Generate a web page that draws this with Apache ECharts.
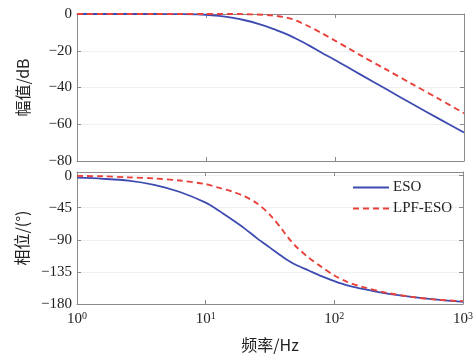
<!DOCTYPE html>
<html><head><meta charset="utf-8">
<script src="https://cdn.jsdelivr.net/npm/echarts@6/dist/echarts.min.js"></script>
<style>html,body{margin:0;padding:0;background:#fff}#c{width:476px;height:361px}</style>
</head><body><div id="c"></div>
<script>
const freq = [1, 1.58, 2.51, 3.98, 6.31, 10, 12.6, 15.8, 20, 25.1, 31.6, 39.8, 44.7, 50.1, 63.1, 79.4, 100, 126, 158, 251, 398, 631, 1000];
const magESO = [0, 0, 0, 0, -0.1, -0.4, -1, -2, -3.4, -5.2, -7.5, -10.3, -11.8, -13.5, -17.2, -21.2, -25, -29, -33, -41, -49, -56.8, -64.5];
const magLPF = [0, 0, 0, 0, 0, 0, 0, 0, -0.1, -0.3, -0.7, -1.6, -2.4, -3.6, -6.8, -10.5, -14.5, -18.5, -22.5, -30.3, -38.2, -46, -54];
const phaseESO = [-3, -4.5, -7, -13, -23, -38, -49, -61, -74, -88, -101, -114, -120, -125, -133, -141, -148, -154, -158, -165, -170, -174, -177];
const phaseLPF = [-0.5, -1, -2.5, -4, -7, -12, -17, -22, -29, -39, -55, -77, -89, -99, -115, -128, -140, -149, -155, -164, -170, -174, -176];
const magTicks = [0, -20, -40, -60, -80];
const phaseTicks = [0, -45, -90, -135, -180];
const seriesNames = ['ESO', 'LPF-ESO'];

const pair = (xs, ys) => xs.map((x, i) => [x, ys[i]]);
const SERIF = '"Liberation Serif","Times New Roman",serif';
const CJK = '"Noto Sans CJK SC",sans-serif';
const frame = '#8a8a8a';
const blue = '#3d4bb0', red = '#e8413a';
const minus = v => String(v).replace('-', '\u2212');

function xAx(gi, pos, labels, name) {
  return {
    type: 'log', logBase: 10, min: 1, max: 1000, gridIndex: gi, position: pos,
    axisLine: { show: true, onZero: false, lineStyle: { color: frame, width: 1 } },
    axisTick: { show: true, inside: true, length: 4, lineStyle: { color: frame } },
    splitLine: { show: false },
    axisLabel: labels ? {
      show: true, margin: 7,
      formatter: v => '{b|10}{s|' + Math.round(Math.log10(v)) + '}',
      rich: { b: { fontFamily: SERIF, fontSize: 15, color: '#222' },
              s: { fontFamily: SERIF, fontSize: 10, color: '#222', verticalAlign: 'top', padding: [0, 0, 6, 0] } }
    } : { show: false },
    name: name || '', nameLocation: 'middle', nameGap: 33,
    nameTextStyle: { fontFamily: CJK, fontSize: 16, color: '#222' }
  };
}
function yAx(gi, pos, min, max, labels, name, ticks) {
  return {
    type: 'value', gridIndex: gi, position: pos, min: min, max: max, interval: 45,
    axisLine: { show: true, onZero: false, lineStyle: { color: frame, width: 1 } },
    axisTick: { show: true, inside: true, length: 4, lineStyle: { color: frame } },
    splitLine: { show: labels, lineStyle: { color: '#f0f0f0', width: 1 } },
    axisLabel: labels ? {
      show: true, margin: 5, fontFamily: SERIF, fontSize: 15, color: '#222',
      showMaxLabel: ticks.includes(max),
      formatter: v => ticks.includes(v) ? minus(v) : ''
    } : { show: false },
    name: name || '', nameLocation: 'middle', nameGap: 46, nameRotate: 90,
    nameTextStyle: { fontFamily: CJK, fontSize: 16, color: '#222' }
  };
}

const yTop = yAx(0, 'left', -80, 0, true, '幅值/dB', magTicks); yTop.interval = 20;
const yTopR = yAx(0, 'right', -80, 0, false, '', magTicks); yTopR.interval = 20;
const yBot = yAx(1, 'left', -180, 5, true, '相位/(°)', phaseTicks);
const yBotR = yAx(1, 'right', -180, 5, false, '', phaseTicks);

const chart = echarts.init(document.getElementById('c'), null, { renderer: 'canvas' });
chart.setOption({
  animation: false,
  backgroundColor: '#fff',
  grid: [
    { left: 77, right: 12, top: 14, height: 147 },
    { left: 77, right: 12, top: 172, height: 132 }
  ],
  xAxis: [
    xAx(0, 'bottom', false), xAx(0, 'top', false),
    xAx(1, 'bottom', true, '频率/Hz'), xAx(1, 'top', false)
  ],
  yAxis: [yTop, yTopR, yBot, yBotR],
  legend: {
    orient: 'vertical', left: 347, top: 175, itemWidth: 36, itemHeight: 10, itemGap: 6,
    data: seriesNames,
    itemStyle: { opacity: 0 },
    textStyle: { fontFamily: SERIF, fontSize: 15, color: '#222', padding: [0, 0, 0, -1] }
  },
  series: [
    { name: seriesNames[0], type: 'line', xAxisIndex: 0, yAxisIndex: 0, data: pair(freq, magESO),
      showSymbol: false, symbol: 'none', smooth: 0.3, lineStyle: { color: blue, width: 1.8 }, itemStyle: { color: blue }, z: 3 },
    { name: seriesNames[1], type: 'line', xAxisIndex: 0, yAxisIndex: 0, data: pair(freq, magLPF),
      showSymbol: false, symbol: 'none', smooth: 0.3, lineStyle: { color: red, width: 1.9, type: [6, 4] }, itemStyle: { color: red }, z: 4 },
    { name: seriesNames[0], type: 'line', xAxisIndex: 2, yAxisIndex: 2, data: pair(freq, phaseESO),
      showSymbol: false, symbol: 'none', smooth: 0.3, lineStyle: { color: blue, width: 1.8 }, itemStyle: { color: blue }, z: 3 },
    { name: seriesNames[1], type: 'line', xAxisIndex: 2, yAxisIndex: 2, data: pair(freq, phaseLPF),
      showSymbol: false, symbol: 'none', smooth: 0.3, lineStyle: { color: red, width: 1.9, type: [6, 4] }, itemStyle: { color: red }, z: 4 }
  ]
});
</script></body></html>
